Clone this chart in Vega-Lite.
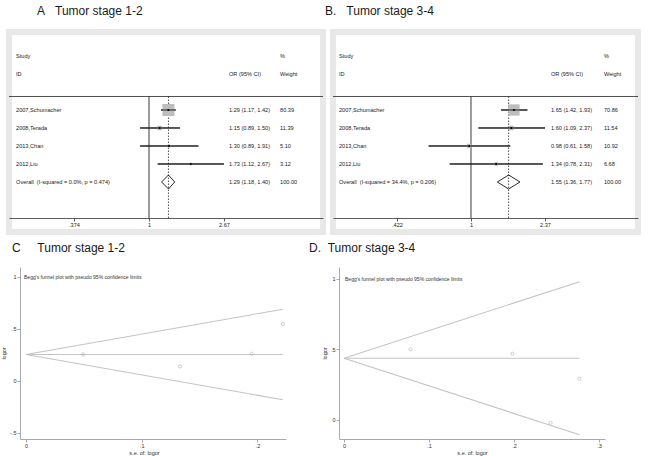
{
  "$schema": "https://vega.github.io/schema/vega-lite/v6.json",
  "background": "white",
  "padding": {"left": 1, "top": 2, "right": 0, "bottom": 0},
  "config": {
    "font": "Liberation Sans",
    "view": {"stroke": null},
    "title": {"font": "Liberation Sans", "fontSize": 12, "fontWeight": "normal", "anchor": "start", "frame": "group", "color": "#1a1a1a"},
    "axis": {"grid": false, "labelFont": "Liberation Sans", "titleFont": "Liberation Sans", "titleFontWeight": "normal"}
  },
  "datasets": {
    "forestA": [
      {"kind": "header", "row": -2, "label": "Study", "ci": "", "wt": "%"},
      {"kind": "header", "row": -1, "label": "ID", "ci": "OR (95% CI)", "wt": "Weight"},
      {"kind": "study", "row": 1, "label": "2007,Schumacher", "or": 1.29, "lo": 1.17, "hi": 1.42, "weight": 80.39, "ci": "1.29 (1.17, 1.42)", "wt": "80.39"},
      {"kind": "study", "row": 2, "label": "2008,Terada", "or": 1.15, "lo": 0.89, "hi": 1.50, "weight": 11.39, "ci": "1.15 (0.89, 1.50)", "wt": "11.39"},
      {"kind": "study", "row": 3, "label": "2013,Chan", "or": 1.30, "lo": 0.89, "hi": 1.91, "weight": 5.10, "ci": "1.30 (0.89, 1.91)", "wt": "5.10"},
      {"kind": "study", "row": 4, "label": "2012,Liu", "or": 1.73, "lo": 1.12, "hi": 2.67, "weight": 3.12, "ci": "1.73 (1.12, 2.67)", "wt": "3.12"},
      {"kind": "overall", "row": 5, "label": "Overall\u00a0\u00a0(I-squared = 0.0%, p = 0.474)", "or": 1.29, "lo": 1.18, "hi": 1.40, "weight": 100, "ci": "1.29 (1.18, 1.40)", "wt": "100.00"}
    ],
    "forestB": [
      {"kind": "header", "row": -2, "label": "Study", "ci": "", "wt": "%"},
      {"kind": "header", "row": -1, "label": "ID", "ci": "OR (95% CI)", "wt": "Weight"},
      {"kind": "study", "row": 1, "label": "2007,Schumacher", "or": 1.65, "lo": 1.42, "hi": 1.93, "weight": 70.86, "ci": "1.65 (1.42, 1.93)", "wt": "70.86"},
      {"kind": "study", "row": 2, "label": "2008,Terada", "or": 1.60, "lo": 1.09, "hi": 2.37, "weight": 11.54, "ci": "1.60 (1.09, 2.37)", "wt": "11.54"},
      {"kind": "study", "row": 3, "label": "2013,Chan", "or": 0.98, "lo": 0.61, "hi": 1.58, "weight": 10.92, "ci": "0.98 (0.61, 1.58)", "wt": "10.92"},
      {"kind": "study", "row": 4, "label": "2012,Liu", "or": 1.34, "lo": 0.78, "hi": 2.31, "weight": 6.68, "ci": "1.34 (0.78, 2.31)", "wt": "6.68"},
      {"kind": "overall", "row": 5, "label": "Overall\u00a0\u00a0(I-squared = 34.4%, p = 0.206)", "or": 1.55, "lo": 1.36, "hi": 1.77, "weight": 100, "ci": "1.55 (1.36, 1.77)", "wt": "100.00"}
    ],
    "funnelCpts": [
      {"se": 0.0494, "logor": 0.255},
      {"se": 0.133, "logor": 0.140},
      {"se": 0.195, "logor": 0.262},
      {"se": 0.222, "logor": 0.548}
    ],
    "funnelClines": [
      {"line": "upper", "se": 0, "logor": 0.255},
      {"line": "upper", "se": 0.222, "logor": 0.690},
      {"line": "pooled", "se": 0, "logor": 0.255},
      {"line": "pooled", "se": 0.222, "logor": 0.255},
      {"line": "lower", "se": 0, "logor": 0.255},
      {"line": "lower", "se": 0.222, "logor": -0.180}
    ],
    "funnelDpts": [
      {"se": 0.0783, "logor": 0.501},
      {"se": 0.198, "logor": 0.470},
      {"se": 0.243, "logor": -0.020},
      {"se": 0.277, "logor": 0.293}
    ],
    "funnelDlines": [
      {"line": "upper", "se": 0, "logor": 0.438},
      {"line": "upper", "se": 0.277, "logor": 0.981},
      {"line": "pooled", "se": 0, "logor": 0.438},
      {"line": "pooled", "se": 0.277, "logor": 0.438},
      {"line": "lower", "se": 0, "logor": 0.438},
      {"line": "lower", "se": 0.277, "logor": -0.105}
    ],
    "note": [{"text": "Begg's funnel plot with pseudo 95% confidence limits"}]
  },
  "columns": 2,
  "bounds": "flush",
  "spacing": {"row": 35, "column": 10},
  "concat": [
    {
      "width": 314, "height": 200,
      "view": {"fill": "white", "stroke": "#e8e8e8", "strokeWidth": 6},
      "title": {"text": "A\u00a0\u00a0\u00a0Tumor stage 1-2", "dx": 28, "offset": 14},
      "data": {"name": "forestA"},
      "layer": [
        {"transform": [{"filter": "datum.kind == 'study'"}],
         "mark": {"type": "rule", "color": "#111", "strokeWidth": 0.9},
         "encoding": {"x": {"field": "lo", "type": "quantitative", "scale": {"type": "log", "domain": [0.1596, 9.781], "nice": false},
                            "axis": {"orient": "bottom", "offset": -14, "values": [0.374, 1, 2.67], "labelExpr": "datum.value == 0 ? '0' : abs(datum.value) >= 1 ? toString(datum.value) : (datum.value < 0 ? '-' : '') + slice(toString(abs(datum.value)), 1)", "title": null, "tickSize": 3, "tickWidth": 0.8, "domainWidth": 0.8, "domainColor": "#333", "tickColor": "#333", "labelFontSize": 5.6, "labelColor": "#222", "labelPadding": 1, "labelFlush": false}},
                      "x2": {"field": "hi"},
                      "y": {"field": "row", "type": "quantitative", "scale": {"domain": [-3.333, 7.778], "reverse": true, "nice": false, "zero": false}, "axis": null}}},
        {"transform": [{"filter": "datum.kind == 'overall'"}],
         "mark": {"type": "rule", "color": "#222", "strokeWidth": 0.8},
         "encoding": {"y": {"datum": 0.25, "type": "quantitative", "axis": null}}},
        {"transform": [{"filter": "datum.kind == 'overall'"}],
         "mark": {"type": "rule", "color": "#222", "strokeWidth": 0.9},
         "encoding": {"x": {"datum": 1, "type": "quantitative", "axis": {"title": null}},
                      "y": {"datum": 0.25, "type": "quantitative", "axis": null}, "y2": {"datum": 7}}},
        {"transform": [{"filter": "datum.kind == 'overall'"}],
         "mark": {"type": "rule", "color": "#222", "strokeWidth": 0.8, "strokeDash": [1.5, 1.5]},
         "encoding": {"x": {"field": "or", "type": "quantitative", "axis": {"title": null}},
                      "y": {"datum": 0.25, "type": "quantitative", "axis": null}, "y2": {"datum": 7}}},
        {"transform": [{"filter": "datum.kind == 'study'"}],
         "mark": {"type": "point", "shape": "square", "filled": true, "color": "#bdbdbd", "opacity": 1},
         "encoding": {"x": {"field": "or", "type": "quantitative", "axis": {"title": null}},
                      "y": {"field": "row", "type": "quantitative", "axis": null},
                      "size": {"field": "weight", "type": "quantitative", "scale": {"domain": [0, 100], "range": [0, 180], "zero": true}, "legend": null}}},
        {"transform": [{"filter": "datum.kind == 'study'"}],
         "mark": {"type": "rule", "color": "#111", "strokeWidth": 0.9},
         "encoding": {"x": {"field": "lo", "type": "quantitative", "axis": {"title": null}},
                      "x2": {"field": "hi"},
                      "y": {"field": "row", "type": "quantitative", "axis": null}}},
        {"transform": [{"filter": "datum.kind == 'study'"}],
         "mark": {"type": "point", "shape": "circle", "filled": true, "color": "#000", "size": 5, "opacity": 1},
         "encoding": {"x": {"field": "or", "type": "quantitative", "axis": {"title": null}},
                      "y": {"field": "row", "type": "quantitative", "axis": null}}},
        {"transform": [{"filter": "datum.kind == 'overall'"}],
         "mark": {"type": "rule", "color": "#111", "strokeWidth": 0.9, "y2Offset": -7},
         "encoding": {"x": {"field": "lo", "type": "quantitative", "axis": {"title": null}}, "x2": {"field": "or"},
                      "y": {"field": "row", "type": "quantitative", "axis": null}, "y2": {"field": "row"}}},
        {"transform": [{"filter": "datum.kind == 'overall'"}],
         "mark": {"type": "rule", "color": "#111", "strokeWidth": 0.9, "y2Offset": 7},
         "encoding": {"x": {"field": "lo", "type": "quantitative", "axis": {"title": null}}, "x2": {"field": "or"},
                      "y": {"field": "row", "type": "quantitative", "axis": null}, "y2": {"field": "row"}}},
        {"transform": [{"filter": "datum.kind == 'overall'"}],
         "mark": {"type": "rule", "color": "#111", "strokeWidth": 0.9, "yOffset": -7},
         "encoding": {"x": {"field": "or", "type": "quantitative", "axis": {"title": null}}, "x2": {"field": "hi"},
                      "y": {"field": "row", "type": "quantitative", "axis": null}, "y2": {"field": "row"}}},
        {"transform": [{"filter": "datum.kind == 'overall'"}],
         "mark": {"type": "rule", "color": "#111", "strokeWidth": 0.9, "yOffset": 7},
         "encoding": {"x": {"field": "or", "type": "quantitative", "axis": {"title": null}}, "x2": {"field": "hi"},
                      "y": {"field": "row", "type": "quantitative", "axis": null}, "y2": {"field": "row"}}},
        {"mark": {"type": "text", "align": "left", "baseline": "middle", "fontSize": 5.6, "color": "#222"},
         "encoding": {"x": {"datum": 0.175, "type": "quantitative", "axis": {"title": null}},
                      "y": {"field": "row", "type": "quantitative", "axis": null},
                      "text": {"field": "label"}}},
        {"mark": {"type": "text", "align": "left", "baseline": "middle", "fontSize": 5.6, "color": "#222"},
         "encoding": {"x": {"datum": 2.853, "type": "quantitative", "axis": {"title": null}},
                      "y": {"field": "row", "type": "quantitative", "axis": null},
                      "text": {"field": "ci"}}},
        {"mark": {"type": "text", "align": "left", "baseline": "middle", "fontSize": 5.6, "color": "#222"},
         "encoding": {"x": {"datum": 5.57, "type": "quantitative", "axis": {"title": null}},
                      "y": {"field": "row", "type": "quantitative", "axis": null},
                      "text": {"field": "wt"}}}
      ]
    },
    {
      "width": 305, "height": 200,
      "view": {"fill": "white", "stroke": "#e8e8e8", "strokeWidth": 6},
      "title": {"text": "B.\u00a0\u00a0\u00a0Tumor stage 3-4", "dx": -8, "offset": 14},
      "data": {"name": "forestB"},
      "layer": [
        {"transform": [{"filter": "datum.kind == 'study'"}],
         "mark": {"type": "rule", "color": "#111", "strokeWidth": 0.9},
         "encoding": {"x": {"field": "lo", "type": "quantitative", "scale": {"type": "log", "domain": [0.2002, 7.004], "nice": false},
                            "axis": {"orient": "bottom", "offset": -14, "values": [0.422, 1, 2.37], "labelExpr": "datum.value == 0 ? '0' : abs(datum.value) >= 1 ? toString(datum.value) : (datum.value < 0 ? '-' : '') + slice(toString(abs(datum.value)), 1)", "title": null, "tickSize": 3, "tickWidth": 0.8, "domainWidth": 0.8, "domainColor": "#333", "tickColor": "#333", "labelFontSize": 5.6, "labelColor": "#222", "labelPadding": 1, "labelFlush": false}},
                      "x2": {"field": "hi"},
                      "y": {"field": "row", "type": "quantitative", "scale": {"domain": [-3.333, 7.778], "reverse": true, "nice": false, "zero": false}, "axis": null}}},
        {"transform": [{"filter": "datum.kind == 'overall'"}],
         "mark": {"type": "rule", "color": "#222", "strokeWidth": 0.8},
         "encoding": {"y": {"datum": 0.25, "type": "quantitative", "axis": null}}},
        {"transform": [{"filter": "datum.kind == 'overall'"}],
         "mark": {"type": "rule", "color": "#222", "strokeWidth": 0.9},
         "encoding": {"x": {"datum": 1, "type": "quantitative", "axis": {"title": null}},
                      "y": {"datum": 0.25, "type": "quantitative", "axis": null}, "y2": {"datum": 7}}},
        {"transform": [{"filter": "datum.kind == 'overall'"}],
         "mark": {"type": "rule", "color": "#222", "strokeWidth": 0.8, "strokeDash": [1.5, 1.5]},
         "encoding": {"x": {"field": "or", "type": "quantitative", "axis": {"title": null}},
                      "y": {"datum": 0.25, "type": "quantitative", "axis": null}, "y2": {"datum": 7}}},
        {"transform": [{"filter": "datum.kind == 'study'"}],
         "mark": {"type": "point", "shape": "square", "filled": true, "color": "#bdbdbd", "opacity": 1},
         "encoding": {"x": {"field": "or", "type": "quantitative", "axis": {"title": null}},
                      "y": {"field": "row", "type": "quantitative", "axis": null},
                      "size": {"field": "weight", "type": "quantitative", "scale": {"domain": [0, 100], "range": [0, 70], "zero": true}, "legend": null}}},
        {"transform": [{"filter": "datum.kind == 'study'"}],
         "mark": {"type": "rule", "color": "#111", "strokeWidth": 0.9},
         "encoding": {"x": {"field": "lo", "type": "quantitative", "axis": {"title": null}},
                      "x2": {"field": "hi"},
                      "y": {"field": "row", "type": "quantitative", "axis": null}}},
        {"transform": [{"filter": "datum.kind == 'study'"}],
         "mark": {"type": "point", "shape": "circle", "filled": true, "color": "#000", "size": 5, "opacity": 1},
         "encoding": {"x": {"field": "or", "type": "quantitative", "axis": {"title": null}},
                      "y": {"field": "row", "type": "quantitative", "axis": null}}},
        {"transform": [{"filter": "datum.kind == 'overall'"}],
         "mark": {"type": "rule", "color": "#111", "strokeWidth": 0.9, "y2Offset": -7},
         "encoding": {"x": {"field": "lo", "type": "quantitative", "axis": {"title": null}}, "x2": {"field": "or"},
                      "y": {"field": "row", "type": "quantitative", "axis": null}, "y2": {"field": "row"}}},
        {"transform": [{"filter": "datum.kind == 'overall'"}],
         "mark": {"type": "rule", "color": "#111", "strokeWidth": 0.9, "y2Offset": 7},
         "encoding": {"x": {"field": "lo", "type": "quantitative", "axis": {"title": null}}, "x2": {"field": "or"},
                      "y": {"field": "row", "type": "quantitative", "axis": null}, "y2": {"field": "row"}}},
        {"transform": [{"filter": "datum.kind == 'overall'"}],
         "mark": {"type": "rule", "color": "#111", "strokeWidth": 0.9, "yOffset": -7},
         "encoding": {"x": {"field": "or", "type": "quantitative", "axis": {"title": null}}, "x2": {"field": "hi"},
                      "y": {"field": "row", "type": "quantitative", "axis": null}, "y2": {"field": "row"}}},
        {"transform": [{"filter": "datum.kind == 'overall'"}],
         "mark": {"type": "rule", "color": "#111", "strokeWidth": 0.9, "yOffset": 7},
         "encoding": {"x": {"field": "or", "type": "quantitative", "axis": {"title": null}}, "x2": {"field": "hi"},
                      "y": {"field": "row", "type": "quantitative", "axis": null}, "y2": {"field": "row"}}},
        {"mark": {"type": "text", "align": "left", "baseline": "middle", "fontSize": 5.6, "color": "#222"},
         "encoding": {"x": {"datum": 0.2147, "type": "quantitative", "axis": {"title": null}},
                      "y": {"field": "row", "type": "quantitative", "axis": null},
                      "text": {"field": "label"}}},
        {"mark": {"type": "text", "align": "left", "baseline": "middle", "fontSize": 5.6, "color": "#222"},
         "encoding": {"x": {"datum": 2.541, "type": "quantitative", "axis": {"title": null}},
                      "y": {"field": "row", "type": "quantitative", "axis": null},
                      "text": {"field": "ci"}}},
        {"mark": {"type": "text", "align": "left", "baseline": "middle", "fontSize": 5.6, "color": "#222"},
         "encoding": {"x": {"datum": 4.71, "type": "quantitative", "axis": {"title": null}},
                      "y": {"field": "row", "type": "quantitative", "axis": null},
                      "text": {"field": "wt"}}}
      ]
    },
    {
      "width": 280, "height": 172,
      "title": {"text": "C\u00a0\u00a0\u00a0\u00a0\u00a0Tumor stage 1-2", "dx": 3, "offset": 12},
      "layer": [
        {"data": {"name": "funnelClines"},
         "mark": {"type": "line", "color": "#c4c4c4", "strokeWidth": 1.1},
         "encoding": {
           "x": {"field": "se", "type": "quantitative", "scale": {"domain": [-0.0052, 0.2247], "range": [11, 277], "nice": false, "zero": false},
                 "axis": {"values": [0, 0.1, 0.2], "labelExpr": "datum.value == 0 ? '0' : abs(datum.value) >= 1 ? toString(datum.value) : (datum.value < 0 ? '-' : '') + slice(toString(abs(datum.value)), 1)", "title": "s.e. of: logor", "titleX": 135, "titleFontSize": 5.5, "titleColor": "#333", "titlePadding": 2, "labelFontSize": 5.5, "labelColor": "#333", "labelPadding": 1, "tickSize": 3, "domainColor": "#aaaaaa", "tickColor": "#aaaaaa", "labelFlush": false}},
           "y": {"field": "logor", "type": "quantitative", "scale": {"domain": [-0.5577, 1.096], "nice": false, "zero": false},
                 "axis": {"values": [-0.5, 0, 0.5, 1], "labelExpr": "datum.value == 0 ? '0' : abs(datum.value) >= 1 ? toString(datum.value) : (datum.value < 0 ? '-' : '') + slice(toString(abs(datum.value)), 1)", "offset": -11, "title": "logor", "titleFontSize": 5.5, "titleColor": "#333", "titlePadding": 3, "labelFontSize": 5.5, "labelColor": "#333", "labelPadding": 1, "tickSize": 3, "domainColor": "#aaaaaa", "tickColor": "#aaaaaa", "labelFlush": false}},
           "detail": {"field": "line"}}},
        {"data": {"name": "funnelCpts"},
         "mark": {"type": "point", "shape": "circle", "filled": false, "color": "#a8a8a8", "size": 10, "strokeWidth": 0.8},
         "encoding": {"x": {"field": "se", "type": "quantitative", "axis": {"title": "s.e. of: logor"}},
                      "y": {"field": "logor", "type": "quantitative", "axis": {"title": "logor"}}}},
        {"data": {"name": "note"},
         "mark": {"type": "text", "align": "left", "baseline": "middle", "fontSize": 5, "color": "#333", "dx": -2},
         "encoding": {"x": {"datum": 0, "type": "quantitative", "axis": {"title": "s.e. of: logor"}},
                      "y": {"datum": 1, "type": "quantitative", "axis": {"title": "logor"}},
                      "text": {"field": "text"}}}
      ]
    },
    {
      "width": 280, "height": 172,
      "title": {"text": "D.\u00a0\u00a0Tumor stage 3-4", "dx": -24, "offset": 12},
      "layer": [
        {"data": {"name": "funnelDlines"},
         "mark": {"type": "line", "color": "#c4c4c4", "strokeWidth": 1.1},
         "encoding": {
           "x": {"field": "se", "type": "quantitative", "scale": {"domain": [-0.0059, 0.307], "range": [6, 272], "nice": false, "zero": false},
                 "axis": {"values": [0, 0.1, 0.2, 0.3], "labelExpr": "datum.value == 0 ? '0' : abs(datum.value) >= 1 ? toString(datum.value) : (datum.value < 0 ? '-' : '') + slice(toString(abs(datum.value)), 1)", "title": "s.e. of: logor", "titleFontSize": 5.5, "titleColor": "#333", "titlePadding": 2, "labelFontSize": 5.5, "labelColor": "#333", "labelPadding": 1, "tickSize": 3, "domainColor": "#aaaaaa", "tickColor": "#aaaaaa", "labelFlush": false}},
           "y": {"field": "logor", "type": "quantitative", "scale": {"domain": [-0.1348, 1.085], "nice": false, "zero": false},
                 "axis": {"values": [0, 0.5, 1], "labelExpr": "datum.value == 0 ? '0' : abs(datum.value) >= 1 ? toString(datum.value) : (datum.value < 0 ? '-' : '') + slice(toString(abs(datum.value)), 1)", "offset": -6, "title": "logor", "titleFontSize": 5.5, "titleColor": "#333", "titlePadding": 3, "labelFontSize": 5.5, "labelColor": "#333", "labelPadding": 1, "tickSize": 3, "domainColor": "#aaaaaa", "tickColor": "#aaaaaa", "labelFlush": false}},
           "detail": {"field": "line"}}},
        {"data": {"name": "funnelDpts"},
         "mark": {"type": "point", "shape": "circle", "filled": false, "color": "#a8a8a8", "size": 10, "strokeWidth": 0.8},
         "encoding": {"x": {"field": "se", "type": "quantitative", "axis": {"title": "s.e. of: logor"}},
                      "y": {"field": "logor", "type": "quantitative", "axis": {"title": "logor"}}}},
        {"data": {"name": "note"},
         "mark": {"type": "text", "align": "left", "baseline": "middle", "fontSize": 5, "color": "#333", "dx": 1},
         "encoding": {"x": {"datum": 0, "type": "quantitative", "axis": {"title": "s.e. of: logor"}},
                      "y": {"datum": 1, "type": "quantitative", "axis": {"title": "logor"}},
                      "text": {"field": "text"}}}
      ]
    }
  ]
}
